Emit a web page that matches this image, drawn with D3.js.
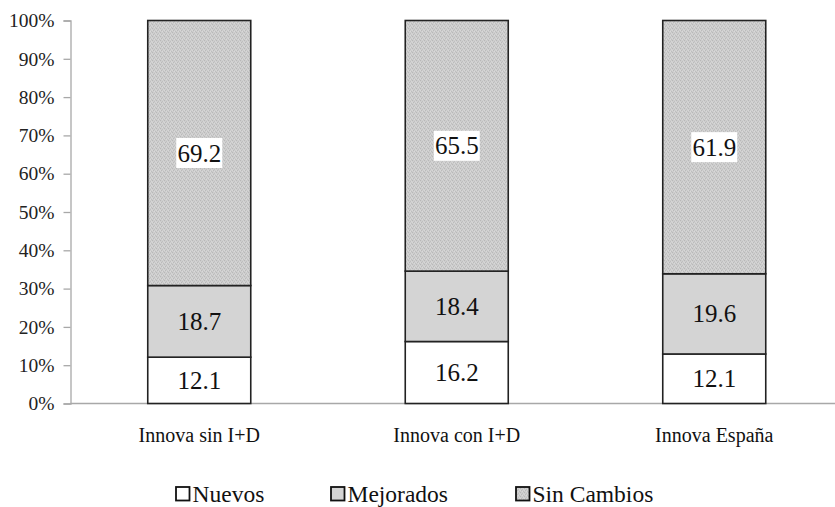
<!DOCTYPE html>
<html>
<head>
<meta charset="utf-8">
<script src="https://cdn.jsdelivr.net/npm/d3@7"></script>
<style>
  html, body { margin: 0; padding: 0; background: #fff; }
  svg { display: block; }
</style>
</head>
<body>
<svg id="chart" width="835" height="507"></svg>
<script>
// Product innovation shares by firm group (100% stacked)
const categories = ["Innova sin I+D", "Innova con I+D", "Innova España"];
const seriesNames = ["Nuevos", "Mejorados", "Sin Cambios"];
const nuevos = [12.1, 16.2, 12.1];
const mejorados = [18.7, 18.4, 19.6];
const sinCambios = [69.2, 65.5, 61.9];
const yTicks = [0, 0.1, 0.2, 0.3, 0.4, 0.5, 0.6, 0.7, 0.8, 0.9, 1.0];

const SERIF = '"Liberation Serif"';

const rows = categories.map((c, i) => ({
  cat: c,
  "Nuevos": nuevos[i],
  "Mejorados": mejorados[i],
  "Sin Cambios": sinCambios[i]
}));

const svg = d3.select("#chart");
const margin = { left: 70.5, top: 20.5, bottom: 403.5 };

// Speckled gray texture for "Sin Cambios"
const defs = svg.append("defs");
const pat = defs.append("pattern")
  .attr("id", "speckle").attr("patternUnits", "userSpaceOnUse")
  .attr("width", 4).attr("height", 4);
pat.append("rect").attr("width", 4).attr("height", 4).attr("fill", "#cdcdcd");
[[0, 0, "#b8b8b8"], [2, 1, "#bfbfbf"], [1, 2, "#bababa"], [3, 3, "#bebebe"],
 [2, 3, "#d9d9d9"], [0, 2, "#d7d7d7"], [3, 1, "#d5d5d5"]].forEach(([x, y, c]) => {
  pat.append("rect").attr("x", x).attr("y", y).attr("width", 1).attr("height", 1).attr("fill", c);
});

const fills = {
  "Nuevos": "#ffffff",
  "Mejorados": "#d4d4d4",
  "Sin Cambios": "url(#speckle)"
};

const x = d3.scaleBand().domain(categories).range([70.5, 843]).paddingInner(0.6).paddingOuter(0.3);
const y = d3.scaleLinear().domain([0, 1]).range([margin.bottom, margin.top]);

const stack = d3.stack().keys(seriesNames).offset(d3.stackOffsetExpand);
const layers = stack(rows);

// Y axis
const yAxis = d3.axisLeft(y).tickValues(yTicks).tickFormat(d3.format(".0%"))
  .tickSizeOuter(0).tickSize(7).tickPadding(9);
const gy = svg.append("g").attr("transform", `translate(${margin.left},0)`).call(yAxis);
gy.attr("font-family", null).attr("font-size", null);
gy.select(".domain").attr("stroke", "#a8a8a8").attr("stroke-width", 1.3);
gy.selectAll(".tick line").attr("stroke", "#a8a8a8").attr("stroke-width", 1.3);
gy.selectAll(".tick text")
  .style("font-family", SERIF)
  .style("font-size", "19.5px").attr("fill", "#222");

// Baseline across the plot
svg.append("line")
  .attr("x1", margin.left).attr("x2", 835)
  .attr("y1", y(0)).attr("y2", y(0))
  .attr("stroke", "#a8a8a8").attr("stroke-width", 1.3);

// Bars
const gBars = svg.append("g");
layers.forEach(layer => {
  gBars.selectAll(null).data(layer).enter().append("rect")
    .attr("x", d => x(d.data.cat))
    .attr("width", x.bandwidth())
    .attr("y", d => y(d[1]))
    .attr("height", d => y(d[0]) - y(d[1]))
    .attr("fill", fills[layer.key])
    .attr("stroke", "#222").attr("stroke-width", 1.6);
});

// Value labels
const gLabels = svg.append("g");
layers.forEach(layer => {
  layer.forEach(d => {
    const cx = x(d.data.cat) + x.bandwidth() / 2;
    const cy = y((d[0] + d[1]) / 2);
    const txt = d.data[layer.key].toFixed(1);
    if (layer.key === "Sin Cambios") {
      gLabels.append("rect")
        .attr("x", cx - 23).attr("y", cy - 15)
        .attr("width", 46).attr("height", 30)
        .attr("fill", "#fff");
    }
    gLabels.append("text")
      .attr("x", cx).attr("y", cy + 8.5)
      .attr("text-anchor", "middle")
      .style("font-family", SERIF)
      .style("font-size", "25px").attr("fill", "#111")
      .text(txt);
  });
});

// Category labels
svg.append("g").selectAll("text").data(categories).enter().append("text")
  .attr("x", d => x(d) + x.bandwidth() / 2)
  .attr("y", 442)
  .attr("text-anchor", "middle")
  .style("font-family", SERIF)
  .style("font-size", "20px").attr("fill", "#111")
  .text(d => d);

// Legend
const legendX = [176, 331, 516];
const lg = svg.append("g");
seriesNames.forEach((name, i) => {
  lg.append("rect")
    .attr("x", legendX[i]).attr("y", 487)
    .attr("width", 13.5).attr("height", 13.5)
    .attr("fill", fills[name])
    .attr("stroke", "#111").attr("stroke-width", 1.8);
  lg.append("text")
    .attr("x", legendX[i] + 16.5).attr("y", 502)
    .style("font-family", SERIF)
    .style("font-size", "23.5px").attr("fill", "#111")
    .text(name);
});
</script>
</body>
</html>
